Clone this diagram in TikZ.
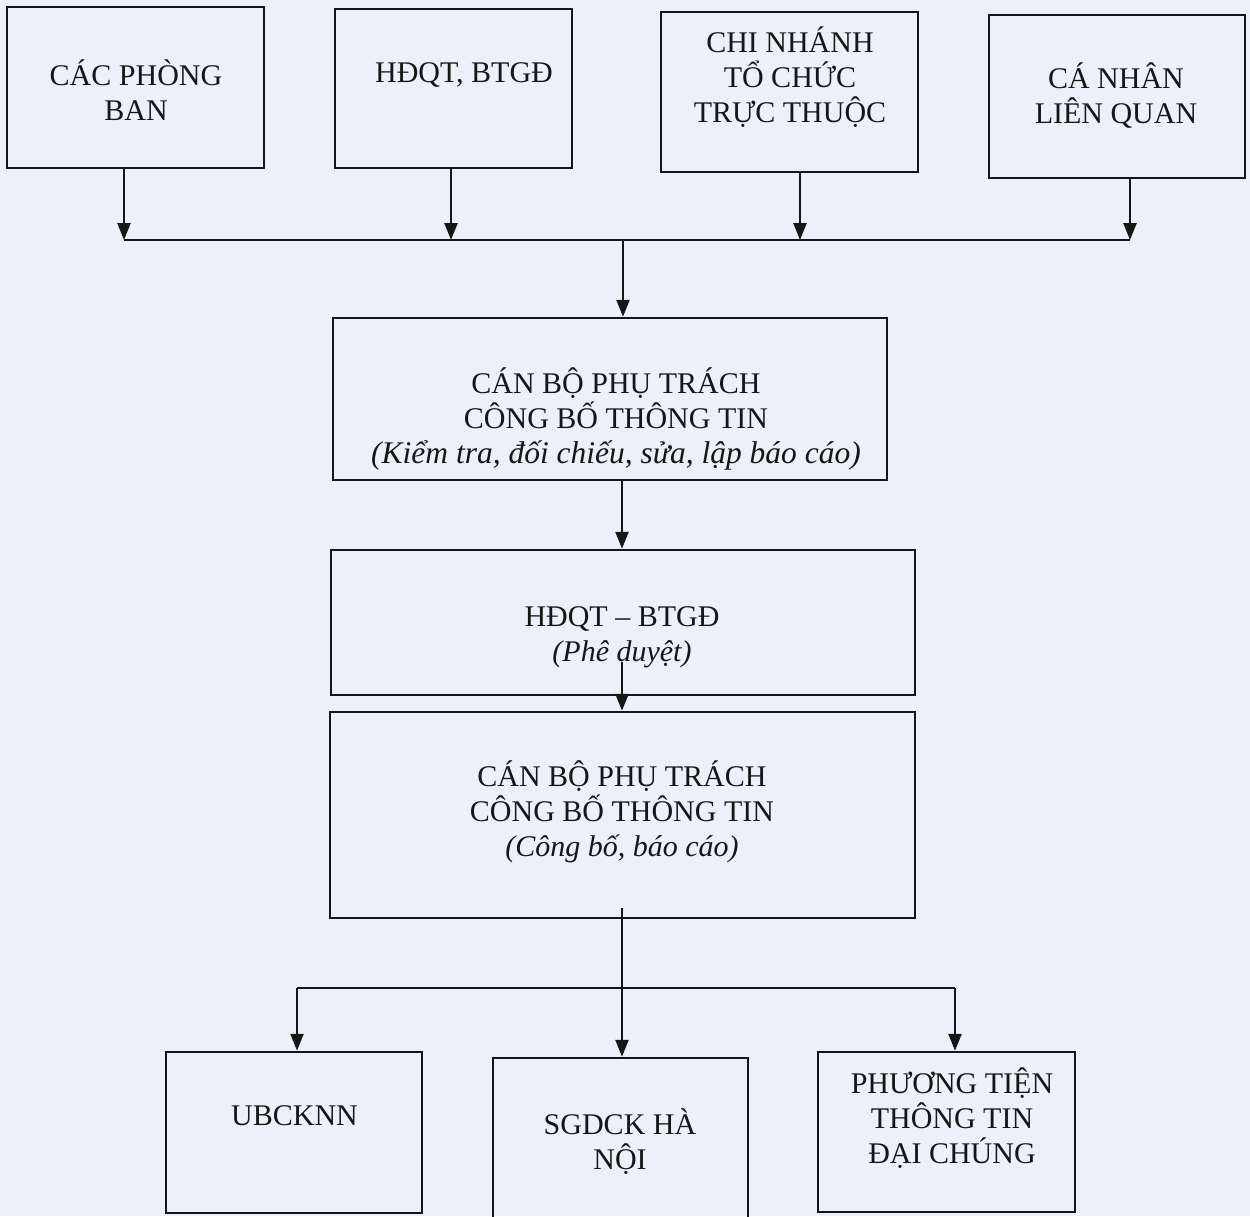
\documentclass[tikz,border=0pt]{standalone}
\usepackage{fontspec}
\setmainfont{Liberation Serif}
\usetikzlibrary{arrows.meta}
\definecolor{bg}{HTML}{EDF1F7}
\definecolor{ink}{HTML}{161616}
\begin{document}
\begin{tikzpicture}[x=1pt,y=-1pt,
  box/.style={draw=ink,line width=2.5pt,rectangle,inner sep=0pt},
  txt/.style={font=\fontsize{30}{35}\selectfont,align=center,text=ink,inner sep=0pt},
  arr/.style={draw=ink,line width=2.5pt,-{Triangle[length=17pt,width=13pt]}},
  ln/.style={draw=ink,line width=2.5pt}]
\fill[bg] (0,0) rectangle (1250,1216);
\useasboundingbox (0,0) rectangle (1250,1216);
% top row
\node[box,minimum width=257pt,minimum height=161pt] (b1) at (135.5,87.5) {};
\node[box,minimum width=237pt,minimum height=159pt] (b2) at (453.5,88.5) {};
\node[box,minimum width=257pt,minimum height=160pt] (b3) at (789.5,92) {};
\node[box,minimum width=256pt,minimum height=163pt] (b4) at (1117,96.5) {};
\node[txt] (t1) at (136,90) {CÁC PHÒNG\\BAN};
\node[txt] (t2) at (464,75) {HĐQT, BTGĐ};
\node[txt] (t3) at (790,77) {CHI NHÁNH\\TỔ CHỨC\\TRỰC THUỘC};
\node[txt] (t4) at (1116,96) {CÁ NHÂN\\LIÊN QUAN};
% middle
\node[box,minimum width=554pt,minimum height=162pt] (b5) at (610,399) {};
\node[txt] (t5) at (616,419) {CÁN BỘ PHỤ TRÁCH\\CÔNG BỐ THÔNG TIN\\{\fontsize{31.5}{35}\selectfont\itshape (Kiểm tra, đối chiếu, sửa, lập báo cáo)}};
\node[box,minimum width=584pt,minimum height=145pt] (b6) at (623,622.5) {};
\node[txt] (t6) at (622,637) {HĐQT – BTGĐ\\\textit{(Phê duyệt)}};
\node[box,minimum width=585pt,minimum height=206pt] (b7) at (622.5,815) {};
\node[txt] (t7) at (622,812) {CÁN BỘ PHỤ TRÁCH\\CÔNG BỐ THÔNG TIN\\\textit{(Công bố, báo cáo)}};
% bottom row
\node[box,minimum width=256pt,minimum height=161pt] (b8) at (294,1132.5) {};
\node[box,minimum width=255pt,minimum height=164pt] (b9) at (620.5,1140) {};
\node[box,minimum width=257pt,minimum height=160pt] (b10) at (946.5,1132) {};
\node[txt] (t8) at (294.5,1116) {UBCKNN};
\node[txt] (t9) at (620,1142) {SGDCK HÀ\\NỘI};
\node[txt] (t10) at (952,1118) {PHƯƠNG TIỆN\\THÔNG TIN\\ĐẠI CHÚNG};
% connectors
\coordinate (j1) at (124,240);
\coordinate (j2) at (451,240);
\coordinate (j3) at (800,240);
\coordinate (j4) at (1130,240);
\coordinate (m1) at (623,240);
\coordinate (ax) at (622,0);
\coordinate (s6) at (622,662);
\coordinate (s7) at (622,908);
\coordinate (k1) at (297,988);
\coordinate (k3) at (955,988);
\draw[arr] (b1.south -| j1) -- (j1);
\draw[arr] (b2.south -| j2) -- (j2);
\draw[arr] (b3.south -| j3) -- (j3);
\draw[arr] (b4.south -| j4) -- (j4);
\draw[ln] (j1) -- (j4);
\draw[arr] (m1) -- (m1 |- b5.north);
\draw[arr] (b5.south -| ax) -- (b6.north -| ax);
\draw[arr] (s6) -- (s6 |- b7.north);
\draw[arr] (s7) -- (s7 |- b9.north);
\draw[ln] (k1) -- (k3);
\draw[arr] (k1) -- (k1 |- b8.north);
\draw[arr] (k3) -- (k3 |- b10.north);
\end{tikzpicture}
\end{document}
